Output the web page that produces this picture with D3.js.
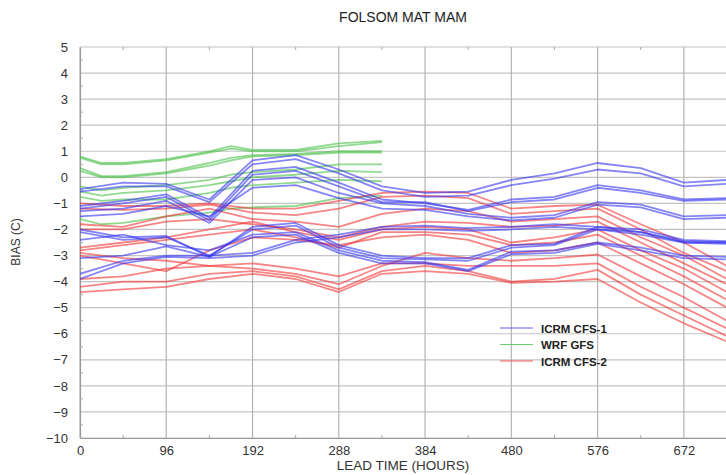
<!DOCTYPE html>
<html>
<head>
<meta charset="utf-8">
<script src="https://cdn.jsdelivr.net/npm/d3@7"></script>
<style>
  html, body { margin: 0; padding: 0; background: #fff; }
  svg { display: block; font-family: "Liberation Sans", Arial, Helvetica, sans-serif; }
</style>
</head>
<body>
<svg id="chart" width="726" height="475"></svg>
<script>
// Lead times (hours) at which the ensemble members are sampled
const hoursCFS = [0, 48, 96, 144, 192, 240, 288, 336, 384, 432, 480, 528, 576, 624, 672, 720];
const hoursWRF = [0, 24, 48, 96, 144, 168, 192, 240, 288, 336];

// ICRM CFS-1 members, bias (C)
const cfs1 = [
  [-0.45,-0.2,-0.25,-0.85,0.65,0.85,0.3,-0.35,-0.6,-0.55,-0.1,0.15,0.55,0.35,-0.2,-0.1],
  [-0.55,-0.35,-0.35,-0.95,0.5,0.7,0.15,-0.5,-0.75,-0.7,-0.3,-0.05,0.3,0.15,-0.35,-0.25],
  [-1.1,-0.9,-0.65,-1.55,0.25,0.4,-0.2,-0.85,-1.0,-1.25,-0.85,-0.75,-0.3,-0.5,-0.85,-0.8],
  [-1.2,-1.0,-0.75,-1.65,0.1,0.25,-0.35,-0.95,-0.95,-1.3,-0.95,-0.85,-0.4,-0.6,-0.9,-0.85],
  [-1.3,-1.2,-0.9,-1.75,-0.1,0.0,-0.6,-1.0,-1.1,-1.4,-1.55,-1.45,-0.95,-1.05,-1.5,-1.45],
  [-1.5,-1.4,-1.1,-1.5,-0.4,-0.3,-0.8,-1.2,-1.25,-1.5,-1.65,-1.55,-1.05,-1.15,-1.6,-1.55],
  [-2.0,-2.3,-2.25,-3.05,-1.9,-1.75,-2.6,-3.0,-3.1,-3.1,-2.6,-2.55,-1.9,-2.1,-2.45,-2.5],
  [-2.1,-2.4,-2.3,-3.0,-2.0,-1.85,-2.7,-3.1,-3.15,-3.2,-2.7,-2.6,-2.0,-2.2,-2.5,-2.55],
  [-2.4,-2.2,-2.6,-2.8,-2.2,-2.1,-2.8,-3.2,-3.25,-3.55,-2.85,-2.8,-2.5,-2.7,-3.0,-3.05],
  [-3.1,-3.0,-2.65,-3.05,-2.3,-2.2,-2.9,-3.3,-3.3,-3.6,-2.95,-2.9,-2.55,-2.8,-3.1,-3.15],
  [-3.7,-3.2,-3.0,-3.0,-2.9,-2.4,-2.2,-1.9,-1.85,-1.95,-1.9,-1.8,-1.9,-2.0,-2.4,-2.45],
  [-3.9,-3.3,-3.05,-3.1,-3.0,-2.5,-2.3,-2.0,-2.0,-2.05,-2.0,-1.9,-2.0,-2.1,-2.5,-2.5]
];

// WRF GFS members, bias (C)
const wrf = [
  [0.80,0.55,0.55,0.70,1.00,1.20,1.05,1.05,1.30,1.40],
  [0.75,0.50,0.50,0.65,0.95,1.10,1.00,1.00,1.20,1.35],
  [0.35,0.05,0.05,0.20,0.55,0.75,0.85,0.90,1.00,1.00],
  [0.25,0.00,0.00,0.15,0.45,0.65,0.80,0.85,0.95,0.95],
  [-0.35,-0.50,-0.40,-0.30,-0.10,0.10,0.20,0.30,0.50,0.50],
  [-0.55,-0.70,-0.60,-0.50,-0.30,-0.15,0.00,0.10,0.25,0.20],
  [-0.75,-0.90,-0.85,-0.85,-0.60,-0.40,-0.30,-0.20,-0.10,-0.15],
  [-1.60,-1.80,-1.75,-1.50,-1.35,-1.20,-1.15,-1.10,-0.80,-0.70]
];

// ICRM CFS-2 members, bias (C)
const cfs2 = [
  [-1.0,-1.1,-1.1,-1.0,-1.2,-1.2,-0.9,-0.6,-0.55,-0.6,-1.2,-1.1,-1.05,-1.8,-2.5,-3.4],
  [-1.2,-1.25,-1.2,-1.05,-1.35,-1.45,-1.2,-0.75,-0.7,-0.8,-1.4,-1.3,-1.2,-2.0,-2.9,-3.6],
  [-1.8,-1.9,-1.5,-1.2,-1.6,-1.7,-1.9,-1.4,-1.2,-1.3,-1.7,-1.6,-1.5,-2.3,-3.0,-3.9],
  [-2.0,-2.0,-1.7,-1.6,-1.8,-2.0,-2.3,-1.9,-1.7,-1.75,-1.9,-1.85,-1.7,-2.5,-3.3,-4.1],
  [-2.7,-2.5,-2.3,-2.0,-1.7,-2.1,-2.4,-2.0,-1.9,-2.0,-2.5,-2.3,-2.0,-2.8,-3.5,-4.4],
  [-2.8,-2.6,-2.4,-2.2,-2.0,-2.3,-2.7,-2.1,-2.1,-2.2,-2.6,-2.5,-2.2,-3.0,-3.8,-4.7],
  [-3.0,-3.3,-3.6,-2.8,-2.3,-2.4,-2.6,-2.3,-2.2,-2.4,-2.9,-2.8,-2.5,-3.3,-4.1,-5.0],
  [-2.9,-3.1,-3.2,-3.4,-3.5,-3.7,-4.1,-3.4,-2.9,-3.1,-3.2,-3.1,-2.96,-3.8,-4.6,-5.5],
  [-3.9,-3.8,-3.5,-3.4,-3.3,-3.5,-3.8,-3.3,-3.3,-3.4,-3.4,-3.4,-3.3,-4.2,-5.0,-5.8],
  [-4.2,-4.0,-4.0,-3.7,-3.6,-3.8,-4.3,-3.6,-3.4,-3.6,-4.0,-3.9,-3.55,-4.5,-5.3,-6.1],
  [-4.4,-4.3,-4.2,-3.9,-3.7,-3.9,-4.4,-3.7,-3.6,-3.7,-4.05,-4.0,-3.9,-4.8,-5.6,-6.3]
];

const xTicks = [0, 96, 192, 288, 384, 480, 576, 672];
const yTicks = [5, 4, 3, 2, 1, 0, -1, -2, -3, -4, -5, -6, -7, -8, -9, -10];
const seriesNames = ["ICRM CFS-1", "WRF GFS", "ICRM CFS-2"];
const seriesColors = ["#3434f0", "#48c048", "#f03434"];

const svg = d3.select("#chart");
const plotLeft = 80, plotRight = 727, plotTop = 47, plotBottom = 438;

const x = d3.scaleLinear().domain([0, 720]).range([plotLeft, plotRight]);
const y = d3.scaleLinear().domain([-10, 5]).range([plotBottom, plotTop]);

// Grid
const grid = svg.append("g");
grid.selectAll("line.h").data(yTicks).join("line")
  .attr("x1", plotLeft).attr("x2", plotRight)
  .attr("y1", d => y(d)).attr("y2", d => y(d))
  .attr("stroke", "#c4c4c4").attr("stroke-width", 1.2);
grid.selectAll("line.v").data(xTicks).join("line")
  .attr("x1", d => x(d)).attr("x2", d => x(d))
  .attr("y1", plotTop).attr("y2", plotBottom)
  .attr("stroke", "#b4b4b4").attr("stroke-width", 1.2);

// Axes with minor ticks
const fmt = d => d < 0 ? "\u2212" + Math.abs(d) : String(d);
const yAxis = d3.axisLeft(y).tickValues(yTicks).tickFormat(fmt).tickSize(0).tickPadding(12);
const gy = svg.append("g").attr("transform", `translate(${plotLeft},0)`).call(yAxis);
gy.select(".domain").attr("stroke", "#999").attr("stroke-width", 1.2);
gy.selectAll("text").attr("font-size", 13).attr("fill", "#333");

const xAxis = d3.axisBottom(x).tickValues(xTicks).tickSize(0).tickPadding(8);
const gx = svg.append("g").attr("transform", `translate(0,${plotBottom})`).call(xAxis);
gx.select(".domain").attr("stroke", "#999").attr("stroke-width", 1.2);
gx.selectAll("text").attr("font-size", 13).attr("fill", "#333");

const minorY = d3.range(-9.5, 5, 1);
svg.append("g").selectAll("line").data(minorY).join("line")
  .attr("x1", plotLeft).attr("x2", plotLeft + 3)
  .attr("y1", d => y(d)).attr("y2", d => y(d))
  .attr("stroke", "#aaa");
const minorX = d3.range(48, 720, 96);
svg.append("g").selectAll("line").data(minorX).join("line")
  .attr("x1", d => x(d)).attr("x2", d => x(d))
  .attr("y1", plotBottom).attr("y2", plotBottom - 3)
  .attr("stroke", "#aaa");
svg.append("g").selectAll("line").data(minorX).join("line")
  .attr("x1", d => x(d)).attr("x2", d => x(d))
  .attr("y1", plotTop).attr("y2", plotTop + 3)
  .attr("stroke", "#aaa");

// Ensemble lines, clipped to the plot area
svg.append("clipPath").attr("id", "plot")
  .append("rect").attr("x", plotLeft).attr("y", plotTop)
  .attr("width", plotRight - plotLeft).attr("height", plotBottom - plotTop);

const plot = svg.append("g").attr("clip-path", "url(#plot)");
function drawSeries(members, hours, color) {
  const line = d3.line().x((d, i) => x(hours[i])).y(d => y(d));
  plot.append("g").selectAll("path").data(members).join("path")
    .attr("d", line)
    .attr("fill", "none")
    .attr("stroke", color)
    .attr("stroke-width", 1.8)
    .attr("stroke-opacity", 0.6)
    .attr("stroke-linejoin", "round");
}
drawSeries(wrf, hoursWRF, seriesColors[1]);
drawSeries(cfs2, hoursCFS, seriesColors[2]);
drawSeries(cfs1, hoursCFS, seriesColors[0]);

// Legend
const legend = svg.append("g").attr("transform", "translate(500,328)");
seriesNames.forEach((name, i) => {
  const g = legend.append("g").attr("transform", `translate(0,${i * 16.5})`);
  g.append("line").attr("x1", 0).attr("x2", 33).attr("y1", 0).attr("y2", 0)
    .attr("stroke", seriesColors[i]).attr("stroke-width", 1.2).attr("stroke-opacity", 0.8);
  g.append("text").attr("x", 41).attr("y", 4.5)
    .attr("font-size", 11.5).attr("font-weight", "bold").attr("fill", "#222")
    .text(name);
});

// Titles
svg.append("text").attr("x", 403).attr("y", 22).attr("text-anchor", "middle")
  .attr("font-size", 14).attr("fill", "#222").text("FOLSOM MAT MAM");
svg.append("text").attr("x", 403).attr("y", 470).attr("text-anchor", "middle")
  .attr("font-size", 13.5).attr("fill", "#333").text("LEAD TIME (HOURS)");
svg.append("text").attr("transform", "translate(20,242) rotate(-90)").attr("text-anchor", "middle")
  .attr("font-size", 12).attr("fill", "#333").text("BIAS (C)");
</script>
</body>
</html>
